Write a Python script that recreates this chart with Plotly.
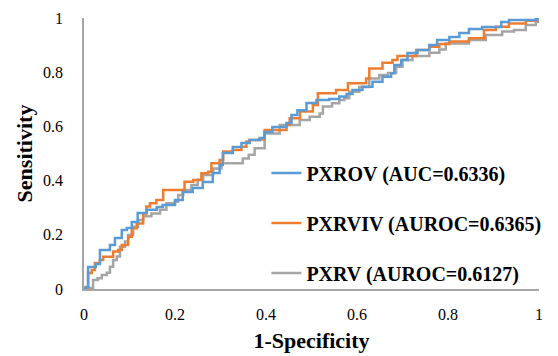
import plotly.graph_objects as go

# 1-Specificity (x) and Sensitivity (y) for each model
pxrov_x = [0, 0.004, 0.009, 0.02, 0.026, 0.035, 0.057, 0.068, 0.083, 0.094, 0.105, 0.118, 0.138, 0.16,
           0.173, 0.2, 0.217, 0.239, 0.261, 0.283, 0.298, 0.305, 0.327, 0.346, 0.364, 0.386, 0.397,
           0.414, 0.445, 0.456, 0.469, 0.489, 0.511, 0.539, 0.561, 0.577, 0.59, 0.612, 0.634, 0.656,
           0.675, 0.682, 0.697, 0.711, 0.733, 0.759, 0.776, 0.803, 0.825, 0.846, 0.875, 0.917, 0.934,
           0.993, 1]
pxrov_y = [0, 0.007, 0.081, 0.081, 0.092, 0.144, 0.162, 0.188, 0.218, 0.225, 0.247, 0.28, 0.292, 0.303,
           0.31, 0.328, 0.358, 0.373, 0.395, 0.428, 0.458, 0.502, 0.524, 0.539, 0.55, 0.557, 0.579,
           0.598, 0.613, 0.642, 0.66, 0.686, 0.697, 0.701, 0.71, 0.72, 0.734, 0.746, 0.765, 0.783,
           0.796, 0.827, 0.845, 0.871, 0.882, 0.9, 0.919, 0.93, 0.945, 0.959, 0.967, 0.985, 0.993,
           0.996, 1]

pxrviv_x = [0, 0.002, 0.009, 0.017, 0.024, 0.035, 0.042, 0.061, 0.064, 0.075, 0.083, 0.097, 0.105, 0.116,
            0.13, 0.137, 0.145, 0.159, 0.174, 0.214, 0.221, 0.24, 0.258, 0.273, 0.28, 0.298, 0.306,
            0.327, 0.346, 0.357, 0.364, 0.386, 0.397, 0.445, 0.452, 0.475, 0.503, 0.514, 0.554, 0.58,
            0.62, 0.627, 0.656, 0.678, 0.689, 0.73, 0.759, 0.781, 0.803, 0.846, 0.879, 0.905, 0.934,
            0.971, 0.996, 1]
pxrviv_y = [0, 0.004, 0.059, 0.07, 0.096, 0.107, 0.119, 0.119, 0.138, 0.144, 0.162, 0.193, 0.224, 0.242,
            0.279, 0.304, 0.316, 0.328, 0.365, 0.365, 0.396, 0.402, 0.427, 0.433, 0.464, 0.476, 0.507,
            0.513, 0.525, 0.544, 0.55, 0.552, 0.587, 0.605, 0.63, 0.655, 0.679, 0.722, 0.734, 0.759,
            0.777, 0.814, 0.835, 0.845, 0.86, 0.882, 0.894, 0.904, 0.913, 0.925, 0.956, 0.968, 0.98,
            0.99, 1.0, 1]

pxrv_x = [0, 0.004, 0.013, 0.02, 0.03, 0.039, 0.05, 0.057, 0.064, 0.072, 0.079, 0.09, 0.097, 0.108,
          0.119, 0.13, 0.148, 0.167, 0.181, 0.2, 0.207, 0.218, 0.236, 0.25, 0.262, 0.284, 0.302,
          0.338, 0.349, 0.362, 0.375, 0.397, 0.43, 0.474, 0.496, 0.518, 0.525, 0.545, 0.561, 0.572,
          0.583, 0.605, 0.627, 0.649, 0.668, 0.686, 0.7, 0.722, 0.759, 0.781, 0.795, 0.846, 0.883,
          0.919, 0.945, 0.971, 0.993, 1]
pxrv_y = [0, 0.004, 0.004, 0.033, 0.04, 0.052, 0.06, 0.082, 0.107, 0.12, 0.156, 0.175, 0.199, 0.23,
          0.255, 0.268, 0.279, 0.292, 0.316, 0.322, 0.347, 0.365, 0.384, 0.403, 0.421, 0.445, 0.464,
          0.464, 0.482, 0.495, 0.519, 0.574, 0.605, 0.624, 0.636, 0.648, 0.673, 0.685, 0.697, 0.704,
          0.728, 0.745, 0.777, 0.79, 0.797, 0.82, 0.845, 0.86, 0.872, 0.884, 0.906, 0.919, 0.937,
          0.95, 0.956, 0.974, 0.986, 1]

tick_vals = [0, 0.2, 0.4, 0.6, 0.8, 1]
tick_text = ["0", "0.2", "0.4", "0.6", "0.8", "1"]
names = ["PXROV (AUC=0.6336)", "PXRVIV (AUROC=0.6365)", "PXRV (AUROC=0.6127)"]
colors = ["#5B9BD5", "#ED7D31", "#A5A5A5"]
xs = [pxrov_x, pxrviv_x, pxrv_x]
ys = [pxrov_y, pxrviv_y, pxrv_y]

fig = go.Figure()
for i in [2, 1, 0]:
    fig.add_trace(go.Scatter(
        x=xs[i], y=ys[i], mode="lines", name=names[i], line_shape="hv",
        line=dict(color=colors[i], width=2.5), legendgroup=str(i), legendrank=i + 1,
    ))

serif = "'Times New Roman', 'Liberation Serif', serif"
fig.update_layout(
    width=558, height=356,
    margin=dict(l=84, r=18, t=18, b=67),
    paper_bgcolor="white", plot_bgcolor="white",
    font=dict(family=serif, color="black", size=16),
    showlegend=True,
    legend=dict(
        x=0.4, y=0.5, xanchor="left", yanchor="top",
        bgcolor="rgba(0,0,0,0)", font=dict(family=serif, size=20, color="black", weight="bold"),
        traceorder="grouped", tracegroupgap=21, itemwidth=30,
    ),
    xaxis=dict(
        range=[0, 1], tickvals=tick_vals, ticktext=tick_text, automargin=False,
        showgrid=False, zeroline=False, showline=True, linecolor="#A6A6A6", linewidth=1.5,
        ticks="", ticklabelstandoff=10, tickfont=dict(family=serif, size=16),
        title=dict(text="1-Specificity", font=dict(family=serif, size=22, weight="bold"), standoff=11),
    ),
    yaxis=dict(
        range=[0, 1], tickvals=tick_vals, ticktext=tick_text, automargin=False,
        showgrid=False, zeroline=False, showline=True, linecolor="#A6A6A6", linewidth=1.5,
        ticks="", ticklabelstandoff=16, tickfont=dict(family=serif, size=16),
        title=dict(text="Sensitivity", font=dict(family=serif, size=22, weight="bold"), standoff=4),
    ),
)

fig.write_html("out.html", config={"displayModeBar": False},
               post_script="document.body.style.margin='0';")
